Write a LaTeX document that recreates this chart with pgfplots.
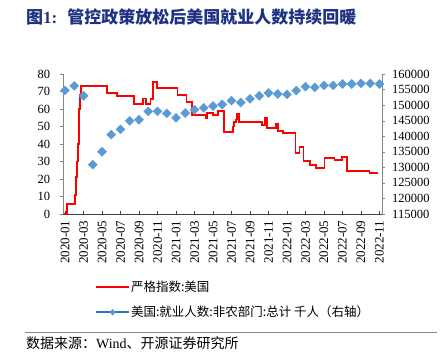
\documentclass[border=0pt]{standalone}
\usepackage{pgfplots}
\pgfplotsset{compat=1.18}
\usepackage{fontspec}
\setmainfont{Liberation Serif}
\newfontfamily\cjk{Noto Sans CJK SC}
\definecolor{sred}{RGB}{255,0,0}
\definecolor{mblue}{RGB}{91,155,213}
\definecolor{lblue}{RGB}{46,117,190}
\definecolor{tblue}{RGB}{30,50,130}
\definecolor{agray}{RGB}{134,134,134}
\begin{document}
\begin{tikzpicture}
\path[use as bounding box] (0,0) rectangle (442pt,357pt);
\begin{axis}[
  at={(62.7pt,143pt)}, anchor=south west,
  scale only axis, width=319pt, height=140pt,
  xmin=-0.25, xmax=34.24, ymin=0, ymax=80,
  axis x line*=bottom, axis y line*=left,
  axis line style={-},
  x axis line style={draw=black!75},
  y axis line style={draw=agray},
  tick align=outside,
  major tick length=3pt,
  xtick style={draw=black!75, yshift=3pt},
  ytick style={draw=agray},
  ytick={0,10,...,80},
  yticklabels={0,10,20,30,40,50,60,70,80},
  xtick={0,2,...,34},
  xticklabels={2020-01,2020-03,2020-05,2020-07,2020-09,2020-11,2021-01,2021-03,2021-05,2021-07,2021-09,2021-11,2022-01,2022-03,2022-05,2022-07,2022-09,2022-11},
  xticklabel style={rotate=90, anchor=east, font=\fontsize{13}{13}\selectfont},
  yticklabel style={font=\fontsize{12.5}{13}\selectfont, xshift=-6pt},
  clip=false,
]
\addplot[const plot, color=sred, line width=1.8pt] coordinates {
(-0.15,0) (0.18,5.5) (1.08,10.9) (1.15,21) (1.33,30) (1.40,40) (1.47,50) (1.54,60) (1.62,68) (1.69,73)
(4.50,69.3) (5.64,67.6) (7.45,62.9) (8.39,66) (8.74,62.9) (9.25,65.5) (9.53,75.6) (9.96,72)
(12.16,68) (13.14,64.2) (13.74,56.6) (15.22,54.7) (15.36,57.5) (16.01,56.6) (16.55,59) (17.19,47)
(18.17,50) (18.30,52.8) (18.45,54) (18.60,57) (18.85,52.8) (21.30,50.9) (21.59,55.2) (21.85,49)
(22.85,51.4) (23.02,47.6) (23.56,46.1) (24.93,34.7) (25.36,38.5) (25.79,30.3) (26.52,28) (27.17,26.5)
(28.06,32.2) (29.14,30.9) (29.97,32.8) (30.51,24.6) (32.92,23.6) (33.82,23.6)
};
\end{axis}
\begin{axis}[
  at={(62.7pt,143pt)}, anchor=south west,
  scale only axis, width=319pt, height=140pt,
  xmin=-0.25, xmax=34.24, ymin=115000, ymax=160000,
  axis x line=none, axis y line*=right,
  axis line style={-, draw=agray},
  tick align=outside,
  major tick length=3pt,
  ytick style={draw=agray},
  ytick={115000,120000,125000,130000,135000,140000,145000,150000,155000,160000},
  yticklabels={115000,120000,125000,130000,135000,140000,145000,150000,155000,160000},
  scaled y ticks=false,
  yticklabel style={font=\fontsize{12.5}{13}\selectfont, xshift=4pt},
  clip=false,
  legend style={at={(0.1013,-0.471)}, anchor=north west, draw=none, fill=none, inner sep=0pt,
    row sep=11pt, font=\cjk\fontsize{12.5}{13}\selectfont, nodes={inner sep=1pt}},
  legend cell align=left,
]
\addplot[forget plot, only marks, mark=square*, mark size=3.2pt, mark options={rotate=45, fill=mblue, draw=mblue}] coordinates {
(0,154750) (1,156200) (2,153000) (3,130850) (4,135000) (5,140500) (6,142200) (7,144950) (8,145300)
(9,148000) (10,148000) (11,147350) (12,145900) (13,147450) (14,148550) (15,149100) (16,149700)
(17,150200) (18,151430) (19,150850) (20,152000) (21,153000) (22,153900) (23,153570) (24,153450)
(25,154640) (26,155930) (27,155710) (28,156360) (29,156360) (30,156790) (31,156790) (32,157000)
(33,157000) (34,156790)
};
\addlegendimage{legend image code/.code={\draw[sred, line width=1.8pt] (0pt,0pt) -- (33pt,0pt);}}
\addlegendentry{严格指数:美国}
\addlegendimage{legend image code/.code={\draw[lblue, line width=1.8pt] (0pt,0pt) -- (33pt,0pt);
  \fill[mblue] (16.5pt,3pt) -- (19pt,0pt) -- (16.5pt,-3pt) -- (14pt,0pt) -- cycle;}}
\addlegendentry{美国:就业人数:非农部门:总计 千人（右轴）}
\end{axis}
\node[anchor=west, inner sep=0pt, text=tblue] at (26pt,340pt)
  {{\cjk\bfseries\fontsize{17}{17}\selectfont 图}{\bfseries\fontsize{17}{17}\selectfont 1:}\hspace{10pt}{\cjk\bfseries\fontsize{17}{17}\selectfont 管控政策放松后美国就业人数持续回暖}};
\draw[agray, line width=1pt] (25pt,25pt) -- (437pt,25pt);
\node[anchor=west, inner sep=0pt] at (26pt,14pt)
  {\fontsize{14}{14}\selectfont{\cjk 数据来源：}Wind{\cjk 、开源证券研究所}};
\end{tikzpicture}
\end{document}
